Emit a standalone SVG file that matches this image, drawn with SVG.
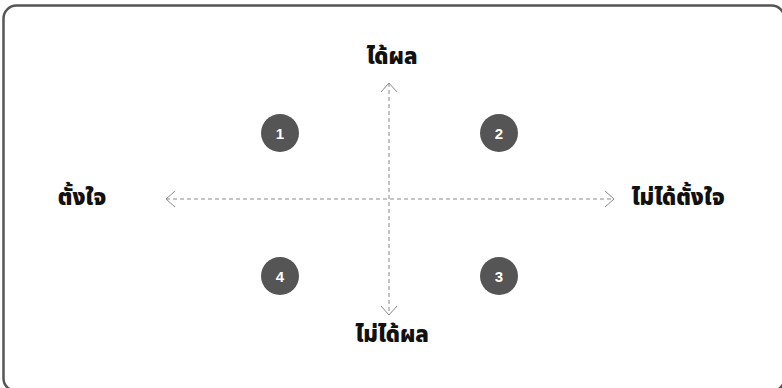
<svg xmlns="http://www.w3.org/2000/svg" width="782" height="388" viewBox="0 0 782 388">
<style>
.lbl{font-family:"Noto Sans Thai","Noto Sans","DejaVu Sans",sans-serif;font-weight:900;font-size:22px;fill:#111}
.num{font-family:"Liberation Sans",Arial,sans-serif;font-weight:bold;font-size:15px;fill:#fff}
.dot{fill:#555}
.axis{stroke:#8a8a8a;stroke-width:1;stroke-dasharray:4 3;fill:none}
.head{stroke:#8a8a8a;stroke-width:1;fill:none}
</style>
<rect x="3.5" y="5.5" width="781" height="385.7" rx="13" fill="#fff" stroke="#555" stroke-width="2.5"/>
<g id="connectors">
<line class="axis" x1="166" y1="199" x2="614" y2="199"/>
<line class="axis" x1="389" y1="83" x2="389" y2="315"/>
<polyline class="head" points="175,191 166,199 175,207"/>
<polyline class="head" points="605,191 614,199 605,207"/>
<polyline class="head" points="381,92 389,83 397,92"/>
<polyline class="head" points="381,306 389,315 397,306"/>
</g>
<g id="label-top"><text class="lbl" x="392" y="64" text-anchor="middle">ได้ผล</text></g>
<g id="label-bottom"><text class="lbl" x="392" y="342" text-anchor="middle">ไม่ได้ผล</text></g>
<g id="label-left"><text class="lbl" x="82" y="205" text-anchor="middle">ตั้งใจ</text></g>
<g id="label-right"><text class="lbl" x="678" y="205" text-anchor="middle">ไม่ได้ตั้งใจ</text></g>
<g id="q1"><circle class="dot" cx="280" cy="133" r="19"/><text class="num" x="280" y="138.5" text-anchor="middle">1</text></g>
<g id="q2"><circle class="dot" cx="499" cy="133" r="19"/><text class="num" x="499" y="138.5" text-anchor="middle">2</text></g>
<g id="q3"><circle class="dot" cx="499" cy="276" r="19"/><text class="num" x="499" y="281.5" text-anchor="middle">3</text></g>
<g id="q4"><circle class="dot" cx="280" cy="276" r="19"/><text class="num" x="280" y="281.5" text-anchor="middle">4</text></g>
</svg>
